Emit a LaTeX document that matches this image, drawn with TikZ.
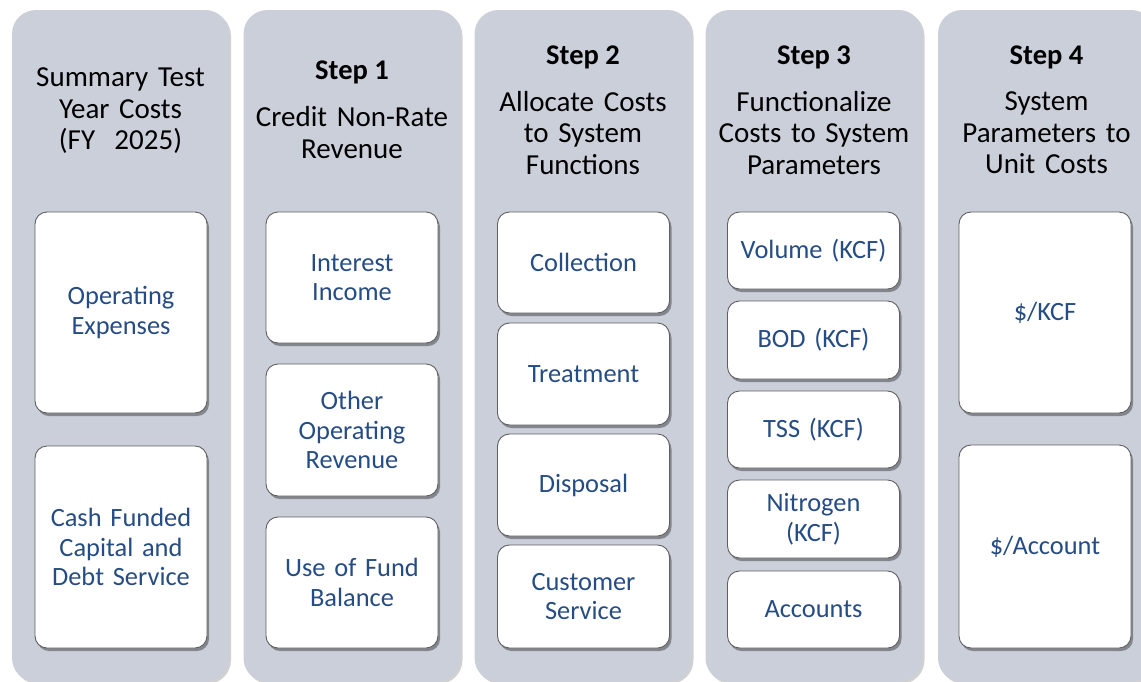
\documentclass[tikz,border=0pt]{standalone}
\usepackage{fontspec}
\setmainfont{Carlito}
\usetikzlibrary{shadows}
\definecolor{colfill}{RGB}{203,207,217}
\definecolor{boxline}{RGB}{95,95,95}
\definecolor{bluetext}{RGB}{38,76,132}
\tikzset{
  column/.style={draw=none, fill=colfill, rounded corners=24pt, minimum width=217pt, minimum height=672pt, inner sep=0pt,
    drop shadow={shadow xshift=2pt, shadow yshift=-2pt, opacity=0.18, fill=black}},
  itembox/.style={draw=boxline, line width=0.9pt, fill=white, rounded corners=12pt, minimum width=172pt, inner sep=0pt,
    align=center, text=bluetext, font=\fontsize{26.4}{29.5}\selectfont, text width=168pt,
    drop shadow={shadow xshift=2pt, shadow yshift=-3pt, opacity=0.35, fill=black}},
  steplabel/.style={font=\fontsize{28.5}{32}\selectfont\bfseries, text=black, inner sep=0pt},
  headtext/.style={font=\fontsize{29}{31.5}\selectfont, text=black, align=center, inner sep=0pt, text width=214pt}
}
\begin{document}
\begin{tikzpicture}[x=1pt,y=-1pt]
\useasboundingbox (0,0) rectangle (1141,681);
\fill[white] (0,0) rectangle (1141,681);
% columns
\node[column] (c1) at (120.5,346) {};
\node[column] (c2) at (352,346) {};
\node[column] (c3) at (583,346) {};
\node[column] (c4) at (814,346) {};
\node[column] (c5) at (1046.5,346) {};
% headers
\node[headtext] (h1) at (120.5,111) {Summary Test\\Year Costs\\(FY~~2025)};
\node[steplabel] (s1) at (352,72) {Step 1};
\node[headtext] (h2) at (352,132.5) {Credit Non-Rate\\Revenue};
\node[steplabel] (s2) at (583,57) {Step 2};
\node[headtext] (h3) at (583,133) {Allocate Costs\\to System\\Functions};
\node[steplabel] (s3) at (814,57) {Step 3};
\node[headtext] (h4) at (814,133) {Functionalize\\Costs to System\\Parameters};
\node[steplabel] (s4) at (1046.5,57) {Step 4};
\node[headtext] (h5) at (1046.5,133) {System\\Parameters to\\Unit Costs};
% column 1
\node[itembox, minimum height=201pt] (oe) at (121,312.5) {Operating\\Expenses};
\node[itembox, minimum height=202pt] (cf) at (121,547) {Cash Funded\\Capital and\\Debt Service};
% column 2
\node[itembox, minimum height=131pt] (ii) at (352,277.5) {Interest\\Income};
\node[itembox, minimum height=132pt] (oor) at (352,430) {Other\\Operating\\Revenue};
\node[itembox, minimum height=131pt] (ufb) at (352,582.5) {Use of Fund\\Balance};
% column 3
\node[itembox, minimum height=101pt] (col) at (583.5,262.5) {Collection};
\node[itembox, minimum height=102pt] (tre) at (583.5,374) {Treatment};
\node[itembox, minimum height=102pt] (dis) at (583.5,485) {Disposal};
\node[itembox, minimum height=103pt] (cs) at (583.5,596.5) {Customer\\Service};
% column 4
\node[itembox, minimum height=77pt] (vol) at (813.5,250.5) {Volume (KCF)};
\node[itembox, minimum height=78pt] (bod) at (813.5,340) {BOD (KCF)};
\node[itembox, minimum height=77pt] (tss) at (813.5,429.5) {TSS (KCF)};
\node[itembox, minimum height=78pt] (nit) at (813.5,519) {Nitrogen\\(KCF)};
\node[itembox, minimum height=77pt] (acc) at (813.5,609.5) {Accounts};
% column 5
\node[itembox, minimum height=201pt] (kcf) at (1045,312.5) {\$/KCF};
\node[itembox, minimum height=203pt] (pacc) at (1045,546.5) {\$/Account};
\end{tikzpicture}
\end{document}
